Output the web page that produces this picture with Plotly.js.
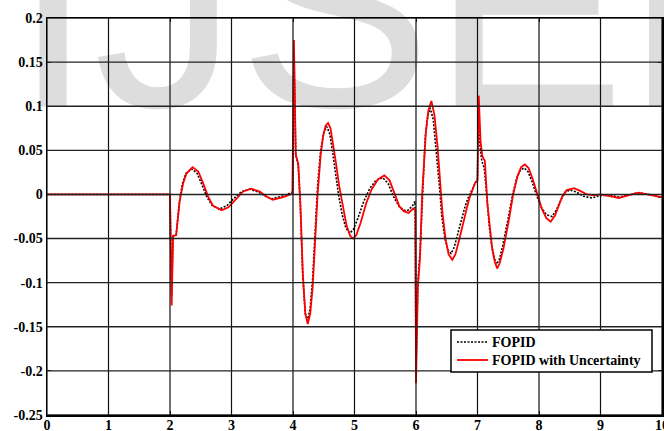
<!DOCTYPE html>
<html>
<head>
<meta charset="utf-8">
<script src="https://cdn.plot.ly/plotly-3.0.1.min.js"></script>
<style>
html,body{margin:0;padding:0;background:#fff;}
#chart{width:664px;height:431px;}
</style>
</head>
<body>
<div id="chart"></div>
<script>
// FOPID (nominal) response
var fopidX = [0,2.0,2.025,2.05,2.1,2.15,2.2,2.26,2.35,2.44,2.52,2.6,2.68,2.8,2.92,3.03,3.16,3.29,3.43,3.55,3.65,3.82,3.97,4.0,4.015,4.045,4.085,4.12,4.16,4.2,4.24,4.28,4.32,4.36,4.4,4.45,4.5,4.55,4.6,4.64,4.69,4.74,4.8,4.86,4.92,4.98,5.05,5.15,5.25,5.35,5.46,5.55,5.63,5.72,5.8,5.87,5.95,5.985,6.0,6.03,6.07,6.1,6.15,6.19,6.23,6.28,6.33,6.38,6.42,6.47,6.52,6.57,6.62,6.68,6.74,6.8,6.86,6.95,7.0,7.015,7.04,7.07,7.11,7.15,7.19,7.23,7.27,7.30,7.35,7.41,7.5,7.57,7.64,7.7,7.76,7.82,7.89,7.96,8.04,8.12,8.21,8.28,8.35,8.42,8.5,8.6,8.72,8.86,9.0,9.15,9.3,9.45,9.6,9.8,9.95,10];
var fopidY = [0,0,-0.115,-0.047,-0.046,-0.01,0.012,0.024,0.029,0.024,0.011,-0.003,-0.012,-0.0165,-0.013,-0.005,0.003,0.006,0.003,-0.002,-0.005,-0.002,0.002,0.003,0.165,0.045,0.033,-0.015,-0.095,-0.135,-0.143,-0.128,-0.095,-0.04,0.01,0.05,0.07,0.077,0.068,0.05,0.025,0.0,-0.023,-0.038,-0.044,-0.04,-0.028,-0.008,0.007,0.016,0.019,0.012,-0.002,-0.013,-0.018,-0.018,-0.012,-0.008,-0.2,-0.1,-0.06,-0.005,0.065,0.088,0.098,0.085,0.05,0.01,-0.025,-0.05,-0.063,-0.067,-0.06,-0.045,-0.03,-0.013,-0.002,0.01,0.018,0.1,0.055,0.038,0.03,0.0,-0.035,-0.058,-0.072,-0.079,-0.075,-0.058,-0.027,0.0,0.019,0.028,0.030,0.026,0.014,-0.001,-0.015,-0.023,-0.025,-0.018,-0.007,0.002,0.005,0.003,-0.002,-0.004,-0.001,-0.001,-0.003,-0.001,0.002,0.0,-0.003,-0.003];

// FOPID with Uncertainty response
var uncX = [0,2.0,2.027,2.05,2.1,2.16,2.215,2.27,2.367,2.46,2.54,2.62,2.70,2.84,2.95,3.06,3.19,3.32,3.46,3.57,3.67,3.84,3.99,4.015,4.045,4.085,4.12,4.16,4.2,4.24,4.28,4.32,4.36,4.40,4.45,4.49,4.53,4.57,4.61,4.65,4.70,4.75,4.81,4.87,4.93,4.98,5.03,5.10,5.19,5.28,5.38,5.485,5.57,5.65,5.73,5.80,5.88,5.955,5.99,6.0,6.03,6.065,6.1,6.16,6.2,6.25,6.3,6.35,6.39,6.43,6.48,6.53,6.59,6.64,6.70,6.755,6.81,6.86,6.96,7.0,7.02,7.05,7.08,7.12,7.16,7.2,7.24,7.28,7.32,7.36,7.42,7.51,7.58,7.65,7.71,7.77,7.83,7.90,7.97,8.05,8.12,8.19,8.26,8.32,8.38,8.45,8.57,8.67,8.78,8.9,9.0,9.15,9.3,9.45,9.62,9.8,9.95,10];
var uncY = [0,0,-0.126,-0.047,-0.046,-0.006,0.013,0.024,0.031,0.026,0.0125,-0.0025,-0.013,-0.018,-0.0145,-0.006,0.0034,0.0065,0.0034,-0.0023,-0.006,-0.003,0.001,0.175,0.045,0.035,-0.01,-0.09,-0.135,-0.147,-0.135,-0.105,-0.05,0.0,0.045,0.066,0.078,0.081,0.075,0.058,0.035,0.01,-0.0136,-0.035,-0.047,-0.050,-0.046,-0.032,-0.010,0.006,0.017,0.0216,0.016,0.002,-0.0136,-0.019,-0.021,-0.016,-0.018,-0.214,-0.105,-0.072,0.0,0.07,0.095,0.106,0.09,0.0545,0.015,-0.021,-0.05,-0.068,-0.074,-0.068,-0.052,-0.036,-0.02,-0.006,0.013,0.016,0.112,0.06,0.043,0.038,-0.01,-0.04,-0.062,-0.076,-0.084,-0.078,-0.062,-0.029,0.0,0.0205,0.031,0.034,0.030,0.017,0.0016,-0.017,-0.027,-0.031,-0.024,-0.013,-0.002,0.005,0.0072,0.004,0.0,-0.001,0.0,-0.002,-0.004,-0.001,0.002,-0.0005,-0.003,-0.003];

var xTickVals = [0,1,2,3,4,5,6,7,8,9,10];
var xTickText = ['0','1','2','3','4','5','6','7','8','9','10'];
var yTickVals = [-0.25,-0.2,-0.15,-0.1,-0.05,0,0.05,0.1,0.15,0.2];
var yTickText = ['-0.25','-0.2','-0.15','-0.1','-0.05','0','0.05','0.1','0.15','0.2'];
var seriesNames = ['FOPID','FOPID with Uncertainty'];
var watermarkText = 'IJSER';

var serifBold = {family:'Liberation Serif, Times New Roman, serif', size:14, color:'#000', weight:'bold'};

// plot-area geometry used to place the hand-made legend box (paper coords)
var L = 47, PW = 615, T = 18, PH = 397;
function px(xp){ return (xp - L) / PW; }
function py(yp){ return (T + PH - yp) / PH; }

var traces = [
  {x:[6.125], y:[0.1819], mode:'text', text:[watermarkText], textposition:'middle center',
   textfont:{family:'Liberation Sans, Arial, sans-serif', size:290, color:'#dddddd'},
   cliponaxis:false, showlegend:false, hoverinfo:'skip'},
  {x:fopidX, y:fopidY, mode:'lines', name:seriesNames[0], showlegend:false,
   line:{color:'#000000', width:1.6, dash:'2px,1.5px'}},
  {x:uncX, y:uncY, mode:'lines', name:seriesNames[1], showlegend:false,
   line:{color:'#ff0000', width:1.8}}
];

var shapes = [];
xTickVals.forEach(function(v){
  shapes.push({type:'line', xref:'x', yref:'y', x0:v, x1:v, y0:yTickVals[0], y1:yTickVals[yTickVals.length-1],
    line:{color:'#111', width:1.2}, layer:'above'});
});
yTickVals.forEach(function(v){
  shapes.push({type:'line', xref:'x', yref:'y', x0:xTickVals[0], x1:xTickVals[xTickVals.length-1], y0:v, y1:v,
    line:{color:'#222', width:1.4}, layer:'above'});
});
// legend box
shapes.push({type:'rect', xref:'paper', yref:'paper', x0:px(451), x1:px(652), y0:py(372), y1:py(330),
  fillcolor:'#ffffff', line:{color:'#000', width:1.5}, layer:'above'});
shapes.push({type:'line', xref:'paper', yref:'paper', x0:px(457), x1:px(488), y0:py(342), y1:py(342),
  line:{color:'#000', width:1.6, dash:'2px,1.5px'}, layer:'above'});
shapes.push({type:'line', xref:'paper', yref:'paper', x0:px(457), x1:px(488), y0:py(360), y1:py(360),
  line:{color:'#ff0000', width:1.8}, layer:'above'});

var annotations = [
  {xref:'paper', yref:'paper', x:px(490), y:py(342), text:seriesNames[0], showarrow:false,
   xanchor:'left', yanchor:'middle', font:serifBold},
  {xref:'paper', yref:'paper', x:px(490), y:py(360), text:seriesNames[1], showarrow:false,
   xanchor:'left', yanchor:'middle', font:serifBold}
];

var layout = {
  width:664, height:431,
  margin:{l:L, r:2, t:T, b:431-T-PH, pad:0},
  paper_bgcolor:'#ffffff', plot_bgcolor:'#ffffff',
  showlegend:false,
  xaxis:{range:[0,10], tickvals:xTickVals, ticktext:xTickText, showgrid:false, zeroline:false,
    showline:true, mirror:'ticks', linecolor:'#000', linewidth:1.5, ticks:'inside', ticklen:4, tickcolor:'#000',
    tickfont:serifBold, ticklabelstandoff:-3, ticklabeloverflow:'allow', fixedrange:true},
  yaxis:{range:[-0.25,0.2], tickvals:yTickVals, ticktext:yTickText, showgrid:false, zeroline:false,
    showline:true, mirror:'ticks', linecolor:'#000', linewidth:1.5, ticks:'inside', ticklen:4, tickcolor:'#000',
    tickfont:serifBold, ticklabeloverflow:'allow', fixedrange:true},
  shapes:shapes,
  annotations:annotations
};

Plotly.newPlot('chart', traces, layout, {displayModeBar:false, staticPlot:true});
</script>
</body>
</html>
